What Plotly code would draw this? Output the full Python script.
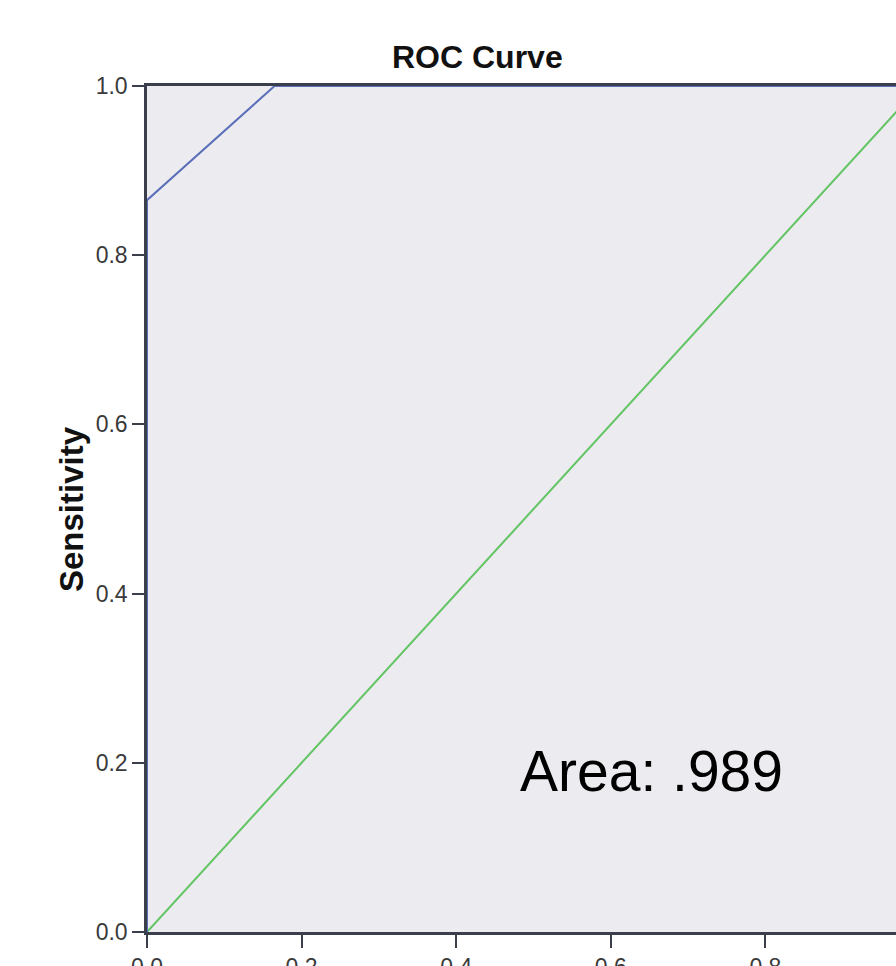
import plotly.graph_objects as go

# ROC curve data (1 - specificity, sensitivity)
roc_fpr = [0.0, 0.0, 0.165, 1.0]
roc_tpr = [0.0, 0.865, 1.0, 1.0]
ref_x = [0.0, 1.0]
ref_y = [0.0, 1.0]
tick_vals = [0.0, 0.2, 0.4, 0.6, 0.8, 1.0]
tick_text = ["0.0", "0.2", "0.4", "0.6", "0.8", "1.0"]
title_text = "ROC Curve"
y_title = "Sensitivity"
area_text = "Area: .989"

FONT = "Arial, Liberation Sans, Helvetica, sans-serif"
AXIS = "#3b3f4c"

fig = go.Figure()
fig.add_trace(go.Scatter(x=ref_x, y=ref_y, mode="lines",
                         line=dict(color="#62c462", width=2), showlegend=False))
fig.add_trace(go.Scatter(x=roc_fpr, y=roc_tpr, mode="lines",
                         line=dict(color="#5b6fb8", width=2), showlegend=False))

fig.update_layout(
    width=896, height=966,
    margin=dict(l=147, r=0, t=86, b=34),
    paper_bgcolor="white",
    plot_bgcolor="#ebebf0",
    showlegend=False,
    font=dict(family=FONT),
)
fig.update_xaxes(range=[0, (896 - 147) / 773], tickvals=tick_vals, ticktext=tick_text,
                 automargin=False,
                 showgrid=False, zeroline=False, showline=True, linecolor=AXIS, linewidth=2.5,
                 mirror=True, ticks="outside", ticklen=13, tickwidth=2, tickcolor=AXIS,
                 tickfont=dict(size=23, color="#3a3a3a", family=FONT))
fig.update_yaxes(range=[0, 1], tickvals=tick_vals, ticktext=tick_text,
                 automargin=False,
                 showgrid=False, zeroline=False, showline=True, linecolor=AXIS, linewidth=2.5,
                 mirror=False, ticks="outside", ticklen=12, tickwidth=2, tickcolor=AXIS,
                 tickfont=dict(size=23, color="#3a3a3a", family=FONT))

fig.add_annotation(text=f"<b>{title_text}</b>", xref="paper", yref="paper",
                   x=(477 - 147) / 846 * 846 / 749, y=(932 - 57) / 846, xanchor="center", yanchor="middle",
                   showarrow=False, font=dict(size=32, color="#111111", family=FONT))
fig.add_annotation(text=f"<b>{y_title}</b>", xref="paper", yref="paper",
                   x=(71 - 147) / 749, y=0.5, xanchor="center", yanchor="middle", textangle=-90,
                   showarrow=False, font=dict(size=33, color="#111111", family=FONT))
fig.add_annotation(text=area_text, xref="x", yref="y",
                   x=0.653, y=0.19, xanchor="center", yanchor="middle",
                   showarrow=False, font=dict(size=57, color="#000000", family=FONT))

fig.write_html("out.html")
